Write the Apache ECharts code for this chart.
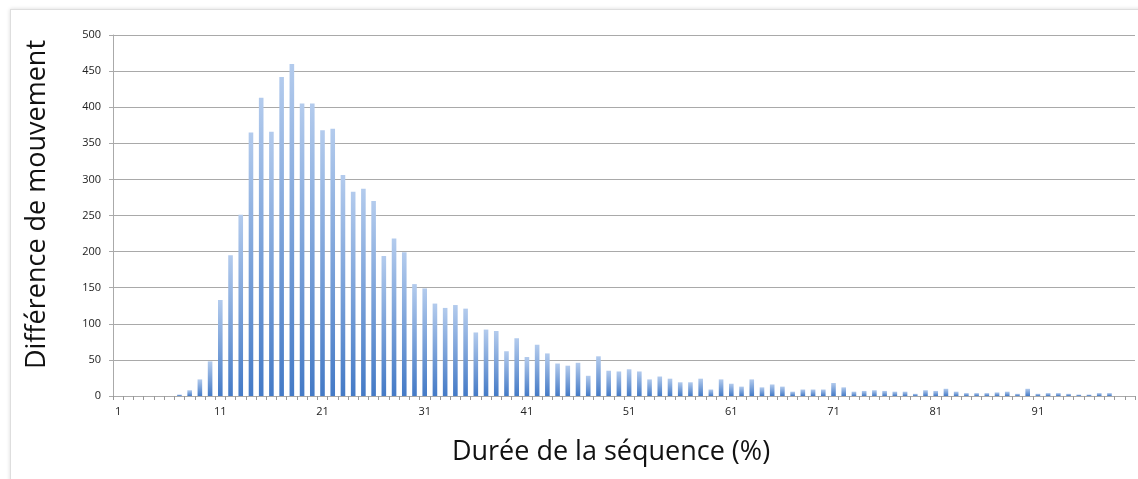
<!DOCTYPE html>
<html>
<head>
<meta charset="utf-8">
<script src="https://cdn.jsdelivr.net/npm/echarts@6/dist/echarts.min.js"></script>
<style>
html,body{margin:0;padding:0;background:#fff;}
#frame{position:absolute;left:10px;top:9px;width:1140px;height:480px;border:1px solid #dedede;box-shadow:0 0 4px rgba(0,0,0,0.15);}
#chart{position:absolute;left:0;top:0;width:1138px;height:479px;}
</style>
</head>
<body>
<div id="frame"></div>
<div id="chart"></div>
<script>
const categories = Array.from({length: 100}, (_, i) => String(i + 1));
const values = [
  0, 0, 0, 0, 0, 0, 2, 8, 23, 48,
  133, 195, 251, 365, 413, 366, 442, 460, 405, 405,
  368, 370, 306, 283, 287, 270, 194, 218, 199, 155,
  149, 128, 122, 126, 121, 88, 92, 90, 62, 80,
  54, 71, 59, 45, 42, 46, 28, 55, 35, 34,
  37, 34, 23, 27, 24, 19, 19, 24, 9, 23,
  17, 13, 23, 12, 16, 13, 6, 9, 9, 9,
  18, 12, 6, 7, 8, 7, 6, 6, 3, 8,
  7, 10, 6, 4, 4, 4, 5, 6, 3, 10,
  3, 4, 4, 3, 2, 2, 4, 4, 0, 0
];
const yTicks = [0, 50, 100, 150, 200, 250, 300, 350, 400, 450, 500];
const xAxisTitle = 'Durée de la séquence (%)';
const yAxisTitle = 'Différence de mouvement';

const chart = echarts.init(document.getElementById('chart'), null, {renderer: 'canvas'});
chart.setOption({
  backgroundColor: 'transparent',
  animation: false,
  grid: {left: 113, right: 3, top: 35, bottom: 83, containLabel: false},
  xAxis: {
    type: 'category',
    data: categories,
    boundaryGap: true,
    name: xAxisTitle,
    nameLocation: 'middle',
    nameGap: 43,
    nameTextStyle: {fontFamily: 'Open Sans', fontSize: 27, color: '#111', padding: [0, 26, 0, 0]},
    axisLine: {lineStyle: {color: '#aaaaaa', width: 1}},
    axisTick: {show: true, interval: 0, alignWithLabel: false, length: 4, lineStyle: {color: '#999'}},
    axisLabel: {interval: 9, fontFamily: 'Open Sans', fontSize: 11, color: '#222', margin: 10}
  },
  yAxis: {
    type: 'value',
    min: yTicks[0],
    max: yTicks[yTicks.length - 1],
    interval: yTicks[1] - yTicks[0],
    name: yAxisTitle,
    nameLocation: 'middle',
    nameGap: 62,
    nameRotate: 90,
    nameTextStyle: {fontFamily: 'Open Sans', fontSize: 27, color: '#111', padding: [0, 0, 0, 22]},
    axisLine: {show: true, lineStyle: {color: '#aaaaaa', width: 1}},
    axisTick: {show: true, length: 4, lineStyle: {color: '#aaaaaa'}},
    axisLabel: {fontFamily: 'Open Sans', fontSize: 11, color: '#222', margin: 12},
    splitLine: {show: true, lineStyle: {color: '#a9a9a9', width: 1.2}}
  },
  series: [{
    type: 'bar',
    data: values,
    barWidth: '45%',
    itemStyle: {
      color: new echarts.graphic.LinearGradient(0, 0, 0, 1, [
        {offset: 0, color: '#b3cbed'},
        {offset: 1, color: '#447ac6'}
      ])
    }
  }]
});
</script>
</body>
</html>
